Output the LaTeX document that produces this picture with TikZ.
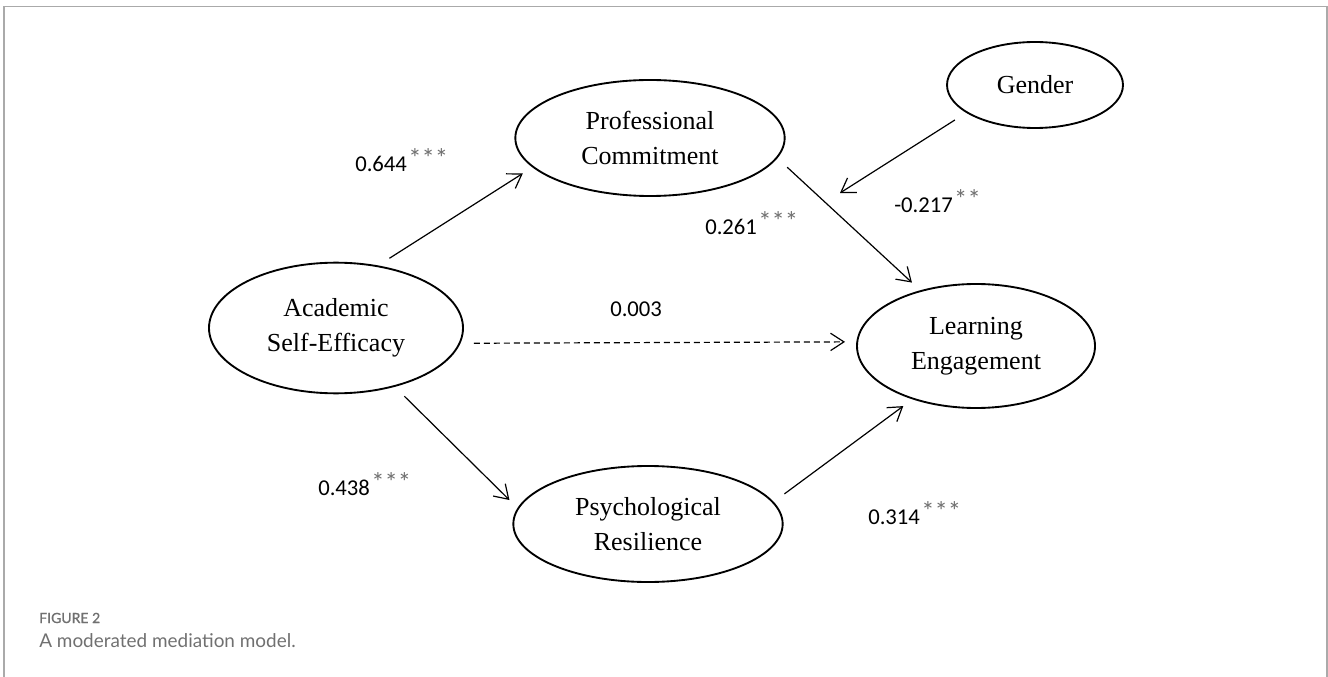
\documentclass[tikz,border=0pt]{standalone}
\usepackage{fontspec}
\setmainfont{Liberation Serif}
\newfontfamily\numfont{Carlito}
\newfontfamily\capfont{Lato}
\newfontfamily\capheadfont{Lato}[FakeBold=1]
\usetikzlibrary{shapes.geometric,arrows.meta}
\definecolor{framegray}{HTML}{AAAAAA}
\definecolor{capgray}{HTML}{707070}
\definecolor{stargray}{HTML}{6E6E6E}
\newcommand{\coef}[2]{{\numfont\fontsize{17}{20}\selectfont #1}\hspace{1pt}\raisebox{3pt}{\numfont\fontsize{20}{22}\selectfont\color{stargray}#2}}

\begin{document}
\begin{tikzpicture}[x=0.75pt,y=-0.75pt,
    latent/.style={draw,ellipse,line width=1.4pt,inner sep=0pt,align=center,font=\fontsize{19.5}{26}\selectfont},
    conn/.style={line width=0.9pt,-{Straight Barb[length=10pt,width=13pt]},shorten <=10pt,shorten >=8.5pt},
    coefl/.style={anchor=base west,inner sep=0pt},
    caption/.style={anchor=base west,inner sep=0pt,text=capgray},
    frame/.style={draw=framegray,line width=1.1pt}]
    \useasboundingbox (0,0) rectangle (1328,677);
    \draw[frame] (4,677)--(4,6.5)--(1327,6.5)--(1327,677);
    \node[latent,minimum width=190.5pt,minimum height=98pt] (ase) at (336,328) {Academic\\Self-Efficacy};
    \node[latent,minimum width=202pt,minimum height=87pt] (pc) at (650,138) {Professional\\Commitment};
    \node[latent,minimum width=202pt,minimum height=87pt] (pr) at (648,524) {Psychological\\Resilience};
    \node[latent,minimum width=178.5pt,minimum height=93pt] (le) at (976,346) {Learning\\Engagement};
    \node[latent,minimum width=132pt,minimum height=64.5pt] (gender) at (1035,85) {Gender};
    \coordinate (gmod) at (840,193);
    \draw[conn] (ase.56)--(pc.194);
    \draw[conn] (pc.-9)--(le.135.5);
    \draw[conn] (ase.-45)--(pr.173);
    \draw[conn] (pr.10)--(le.220);
    \draw[conn,dash pattern=on 4.5pt off 3pt] (ase.-7)--(le.178.6);
    \draw[conn,shorten >=0pt] (gender.202)--(gmod);
    \node[coefl] (c1) at (355,172) {\coef{0.644}{***}};
    \node[coefl] (c2) at (705,235) {\coef{0.261}{***}};
    \node[coefl] (c3) at (894,213) {\coef{-0.217}{**}};
    \node[coefl] (c4) at (610,316) {\coef{0.003}{}};
    \node[coefl] (c5) at (318,495) {\coef{0.438}{***}};
    \node[coefl] (c6) at (868,524) {\coef{0.314}{***}};
    \node[caption,font=\capheadfont\fontsize{10.5}{12}\selectfont] (fig) at (39,623) {FIGURE 2};
    \node[caption,font=\capfont\fontsize{14.2}{17}\selectfont] (cap) at (39,647) {A moderated mediation model.};
\end{tikzpicture}
\end{document}
